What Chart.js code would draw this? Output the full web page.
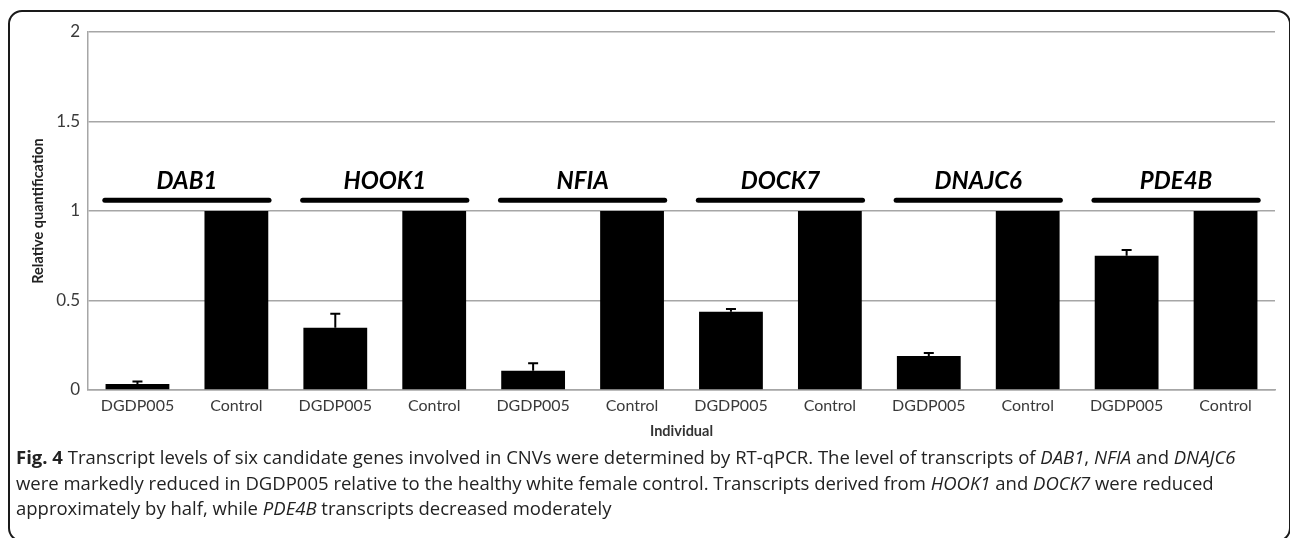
<!DOCTYPE html>
<html lang="en">
<head>
    <meta charset="UTF-8">
    <title>Transcript levels of six candidate genes</title>
    <script src="https://cdn.jsdelivr.net/npm/chart.js"></script>
    <style>
        html, body { margin: 0; padding: 0; background: #fff; }
        body { width: 1290px; height: 538px; position: relative; overflow: hidden; }
        #frame {
            position: absolute; left: 8px; top: 10px;
            width: 1279px; height: 528px;
            border: 2px solid #1a1a1a; border-radius: 14px;
        }
        #chartBox { position: absolute; left: 0; top: 0; width: 1290px; height: 445px; }
        #caption {
            position: absolute; left: 16px; top: 444px;
            font-family: 'Open Sans', sans-serif; font-size: 18.5px; color: #222;
            line-height: 25.5px; white-space: nowrap;
        }
    </style>
</head>
<body>
    <div id="frame"></div>
    <div id="chartBox"><canvas id="qpcrChart" width="1290" height="445"></canvas></div>
    <div id="caption">
        <b>Fig. 4</b> Transcript levels of six candidate genes involved in CNVs were determined by RT-qPCR. The level of transcripts of <i>DAB1</i>, <i>NFIA</i> and <i>DNAJC6</i><br>
        were markedly reduced in DGDP005 relative to the healthy white female control. Transcripts derived from <i>HOOK1</i> and <i>DOCK7</i> were reduced<br>
        approximately by half, while <i>PDE4B</i> transcripts decreased moderately
    </div>

    <script>
        // data
        const genes = ['DAB1', 'HOOK1', 'NFIA', 'DOCK7', 'DNAJC6', 'PDE4B'];
        const individuals = ['DGDP005', 'Control', 'DGDP005', 'Control', 'DGDP005', 'Control',
                             'DGDP005', 'Control', 'DGDP005', 'Control', 'DGDP005', 'Control'];
        const quantification = [0.033, 1, 0.348, 1, 0.108, 1, 0.437, 1, 0.19, 1, 0.75, 1];
        const errorUp = [0.014, 0, 0.078, 0, 0.041, 0, 0.015, 0, 0.017, 0, 0.032, 0];
        const yTicks = [0, 0.5, 1, 1.5, 2];

        const geneBarLevel = 1.06;    // y value of the black line above each pair
        const geneLabelLevel = 1.165; // y value of the gene name

        const gridGray = '#a6a6a6';
        const tickColor = '#3a3a3a';

        // error bars + gene labels drawn from the scales
        const annotations = {
            id: 'annotations',
            afterDatasetsDraw(chart) {
                const ctx = chart.ctx;
                const x = chart.scales.x;
                const y = chart.scales.y;
                const meta = chart.getDatasetMeta(0);

                ctx.save();
                ctx.strokeStyle = '#000';
                ctx.lineWidth = 2;
                meta.data.forEach((bar, i) => {
                    if (!errorUp[i]) return;
                    const px = bar.x;
                    const top = y.getPixelForValue(quantification[i] + errorUp[i]);
                    const base = y.getPixelForValue(quantification[i]);
                    ctx.beginPath();
                    ctx.moveTo(px, base);
                    ctx.lineTo(px, top);
                    ctx.moveTo(px - 5, top);
                    ctx.lineTo(px + 5, top);
                    ctx.stroke();
                });

                ctx.lineWidth = 5;
                ctx.lineCap = 'round';
                ctx.fillStyle = '#000';
                ctx.font = 'italic bold 24px Lato, sans-serif';
                ctx.textAlign = 'center';
                ctx.textBaseline = 'middle';
                genes.forEach((g, i) => {
                    const mid = 2 * i + 0.5;
                    const x0 = x.getPixelForValue(mid - 0.83);
                    const x1 = x.getPixelForValue(mid + 0.83);
                    const ly = y.getPixelForValue(geneBarLevel);
                    ctx.beginPath();
                    ctx.moveTo(x0, ly);
                    ctx.lineTo(x1, ly);
                    ctx.stroke();
                    ctx.fillText(g, x.getPixelForValue(mid), y.getPixelForValue(geneLabelLevel));
                });
                ctx.restore();
            }
        };

        new Chart(document.getElementById('qpcrChart'), {
            type: 'bar',
            data: {
                labels: individuals,
                datasets: [{
                    data: quantification,
                    backgroundColor: '#000',
                    borderWidth: 0,
                    barPercentage: 0.645,
                    categoryPercentage: 1
                }]
            },
            options: {
                responsive: false,
                animation: false,
                layout: { padding: { top: 32, right: 15, left: 0, bottom: 0 } },
                plugins: {
                    legend: { display: false },
                    tooltip: { enabled: false }
                },
                scales: {
                    x: {
                        grid: { display: false, drawTicks: false },
                        border: { display: true, color: gridGray, width: 1.5 },
                        ticks: {
                            color: tickColor, padding: 6, maxRotation: 0, autoSkip: false,
                            font: { family: 'Lato, sans-serif', size: 16 }
                        },
                        title: {
                            display: true, text: 'Individual', color: '#333',
                            font: { family: 'Lato, sans-serif', size: 14.5, weight: 'bold' },
                            padding: { top: 0, bottom: 5 }
                        },
                        afterFit(scale) { scale.height = 55; }
                    },
                    y: {
                        min: 0, max: 2,
                        afterBuildTicks(scale) { scale.ticks = yTicks.map(v => ({ value: v })); },
                        grid: { color: gridGray, lineWidth: 1.5, drawTicks: false },
                        border: { display: true, color: gridGray, width: 1.5 },
                        ticks: {
                            color: tickColor, padding: 8,
                            font: { family: 'Lato, sans-serif', size: 17 },
                            callback: v => String(v)
                        },
                        title: {
                            display: true, text: 'Relative quantification', color: '#222',
                            font: { family: 'Lato, sans-serif', size: 14.5, weight: 'bold' },
                            padding: { top: 30, bottom: 0 }
                        },
                        afterFit(scale) { scale.width = 88; }
                    }
                }
            },
            plugins: [annotations]
        });
    </script>
</body>
</html>
